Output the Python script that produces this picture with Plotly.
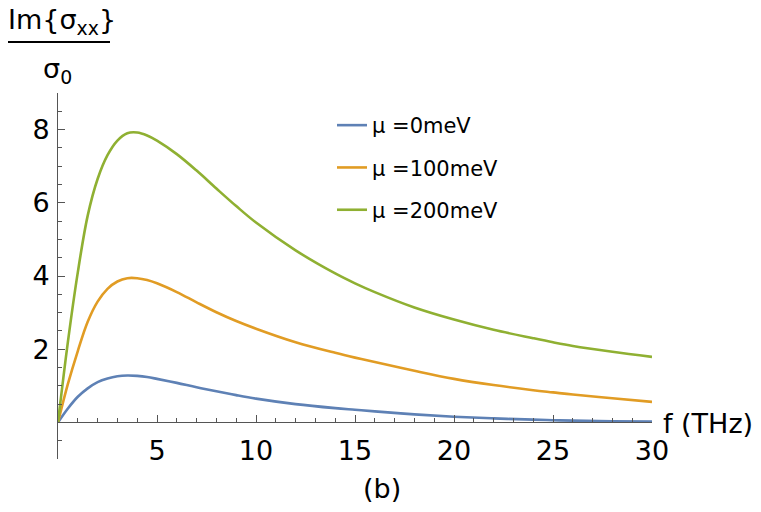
import plotly.graph_objects as go

freq = [0, 0.5, 1, 1.5, 2, 2.5, 3, 3.5, 4, 4.5, 5, 6, 7, 8, 9, 10, 12, 14, 15, 16, 18, 20, 22, 24, 25, 26, 28, 30]
mu0 = [0, 0.38, 0.70, 0.93, 1.10, 1.20, 1.26, 1.28, 1.27, 1.24, 1.19, 1.08, 0.96, 0.85, 0.745, 0.65, 0.50, 0.39, 0.345, 0.30, 0.22, 0.155, 0.11, 0.075, 0.06, 0.048, 0.032, 0.02]
mu100 = [0, 1.05, 1.95, 2.75, 3.3, 3.65, 3.85, 3.94, 3.94, 3.89, 3.8, 3.56, 3.28, 3.01, 2.77, 2.56, 2.19, 1.9, 1.77, 1.65, 1.41, 1.19, 1.02, 0.88, 0.82, 0.76, 0.66, 0.56]
mu200 = [0, 2.2, 4.1, 5.65, 6.65, 7.3, 7.7, 7.9, 7.92, 7.84, 7.7, 7.33, 6.88, 6.39, 5.91, 5.46, 4.70, 4.07, 3.80, 3.56, 3.14, 2.81, 2.53, 2.30, 2.19, 2.09, 1.93, 1.79]

names = ["μ =0meV", "μ =100meV", "μ =200meV"]
colors = ["#5E81B5", "#E19C24", "#8FB032"]
series = [mu0, mu100, mu200]

FONT = "DejaVu Sans"

fig = go.Figure()
for i, (nm, col, ys) in enumerate(zip(names, colors, series)):
    fig.add_trace(go.Scatter(x=freq, y=ys, mode="lines", name=nm,
                             legendgroup=f"g{i}",
                             line=dict(color=col, width=2.6, shape="spline", smoothing=1.0)))

W, H = 761, 512
L, R, T, B = 58, 109, 93, 53
pw, ph = W - L - R, H - T - B

def px(x):
    return (x - L) / pw

def py(y):
    return (H - B - y) / ph

axcol = "#555555"
fig.update_layout(
    width=W, height=H,
    margin=dict(l=L, r=R, t=T, b=B),
    paper_bgcolor="white", plot_bgcolor="white",
    font=dict(family=FONT, color="black"),
    showlegend=True,
    legend=dict(x=px(332), y=py(105), xanchor="left", yanchor="top",
                font=dict(size=21, family=FONT), tracegroupgap=12,
                bgcolor="rgba(0,0,0,0)"),
    xaxis=dict(range=[0, 30], tick0=0, dtick=5, labelalias={"0": ""},
               showgrid=False, zeroline=False, showline=True, linecolor=axcol, linewidth=1,
               ticks="inside", ticklen=7, tickcolor=axcol, tickwidth=1,
               minor=dict(dtick=1, tick0=0, ticks="inside", ticklen=4, tickcolor=axcol),
               anchor="free", position=0.1,
               tickfont=dict(size=27, family=FONT, color="black"), ticklabelstandoff=4),
    yaxis=dict(range=[-1, 9], tick0=0, dtick=2, labelalias={"0": ""},
               showgrid=False, zeroline=False, showline=True, linecolor=axcol, linewidth=1,
               ticks="inside", ticklen=7, tickcolor=axcol, tickwidth=1,
               minor=dict(dtick=0.5, tick0=0, ticks="inside", ticklen=4, tickcolor=axcol),
               tickfont=dict(size=27, family=FONT, color="black"), ticklabelstandoff=2),
)

fig.add_annotation(text="Im{σ<sub>xx</sub>}", xref="paper", yref="paper",
                   x=px(6), y=py(22), xanchor="left", yanchor="middle",
                   showarrow=False, font=dict(size=27, family=FONT))
fig.add_shape(type="line", xref="paper", yref="paper",
              x0=px(8), x1=px(110), y0=py(42), y1=py(42),
              line=dict(color="black", width=2))
fig.add_annotation(text="σ<sub>0</sub>", xref="paper", yref="paper",
                   x=px(57), y=py(70), xanchor="center", yanchor="middle",
                   showarrow=False, font=dict(size=27, family=FONT))
fig.add_annotation(text="f (THz)", xref="paper", yref="paper",
                   x=px(661), y=py(423), xanchor="left", yanchor="middle",
                   showarrow=False, font=dict(size=27, family=FONT))
fig.add_annotation(text="(b)", xref="paper", yref="paper",
                   x=px(382), y=py(488), xanchor="center", yanchor="middle",
                   showarrow=False, font=dict(size=27, family=FONT))

fig.write_html("out.html")
